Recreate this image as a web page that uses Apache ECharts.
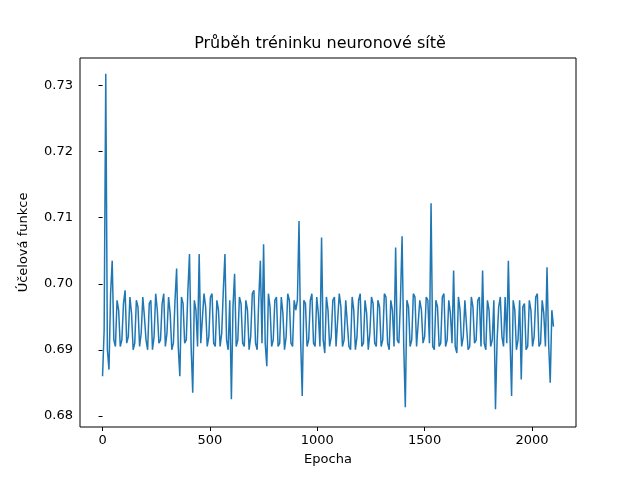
<!DOCTYPE html>
<html><head><meta charset="utf-8">
<script src="https://cdn.jsdelivr.net/npm/echarts@6/dist/echarts.min.js"></script>
<style>html,body{margin:0;padding:0;background:#fff}#c{width:640px;height:480px}</style>
</head><body><div id="c"></div>
<script>
const epochStep = 15;
const lossValues = [
0.686,0.7318,0.687,0.7035,0.6905,0.6960,0.6915,0.6990,0.6920,0.6955,
0.6910,0.6965,0.6925,0.6950,0.6900,0.6975,0.6920,0.6960,0.6915,0.6985,
0.6925,0.6955,0.6910,0.7023,0.6860,0.6970,0.6915,0.7045,0.6835,0.6960,
0.7045,0.6910,0.6965,0.6920,0.6985,0.6905,0.6960,0.6925,0.7045,0.6900,
0.6825,0.7015,0.6915,0.6970,0.6905,0.6960,0.6920,0.6990,0.6900,0.7035,
0.7060,0.6875,0.6965,0.6915,0.6980,0.6910,0.6955,0.6920,0.6975,0.6905,
0.6960,0.7095,0.6830,0.6970,0.6915,0.6985,0.6905,0.6955,0.7070,0.6895,
0.6960,0.6920,0.6980,0.6905,0.6965,0.6915,0.6975,0.6900,0.6960,0.6920,
0.6985,0.6910,0.6955,0.6925,0.6970,0.6905,0.6965,0.6915,0.6980,0.6900,
0.6960,0.7055,0.6910,0.7072,0.6813,0.6965,0.6915,0.6980,0.6905,0.6960,
0.6920,0.6975,0.7122,0.6900,0.6965,0.6910,0.6985,0.6915,0.6955,0.7020,
0.6895,0.6960,0.6920,0.6975,0.6905,0.6965,0.6915,0.6980,0.7020,0.6900,
0.6960,0.6915,0.6810,0.6965,0.6920,0.6980,0.7035,0.6830,0.6960,0.6915,
0.6855,0.6970,0.6905,0.6960,0.6920,0.6985,0.6910,0.6955,0.7025,0.6850,
0.6935
];
const midValues = [
0.6930,0.6900,0.6985,0.6915,0.6975,0.6905,0.6970,0.6910,0.6980,0.6900,
0.6975,0.6905,0.6980,0.6915,0.6970,0.6900,0.6985,0.6910,0.6970,0.6905,
0.6980,0.6900,0.6975,0.6905,0.6980,0.6910,0.6990,0.6905,0.6975,0.6905,
0.6910,0.6985,0.6905,0.6980,0.6910,0.6975,0.6905,0.6990,0.6915,0.6975,
0.6965,0.6905,0.6980,0.6910,0.6975,0.6900,0.6985,0.6910,0.6975,0.6910,
0.6910,0.6985,0.6905,0.6975,0.6905,0.6980,0.6900,0.6985,0.6910,0.6975,
0.6975,0.6915,0.6975,0.6905,0.6975,0.6910,0.6980,0.6905,0.6915,0.6980,
0.6905,0.6975,0.6905,0.6985,0.6905,0.6975,0.6905,0.6980,0.6900,0.6975,
0.6905,0.6975,0.6900,0.6980,0.6910,0.6975,0.6905,0.6985,0.6910,0.6975,
0.6905,0.6915,0.6975,0.6910,0.6975,0.6905,0.6985,0.6905,0.6975,0.6910,
0.6980,0.6910,0.6905,0.6975,0.6905,0.6980,0.6905,0.6975,0.6910,0.6905,
0.6980,0.6905,0.6975,0.6900,0.6980,0.6910,0.6975,0.6905,0.6910,0.6975,
0.6905,0.6975,0.6915,0.6980,0.6905,0.6910,0.6920,0.6975,0.6900,0.6975,
0.6965,0.6900,0.6975,0.6905,0.6980,0.6905,0.6975,0.6905,0.6910,0.6960
];
const xTicks = [0,500,1000,1500,2000];
const yTicks = [0.68,0.69,0.70,0.71,0.72,0.73];
const data = [];
lossValues.forEach((v,i)=>{
  data.push([i*epochStep, v]);
  if (i < midValues.length) data.push([i*epochStep + epochStep/2, midValues[i]]);
});
const txt = {color:'#000', fontFamily:'DejaVu Sans', fontSize:13};
echarts.init(document.getElementById('c')).setOption({
  animation:false,
  title:{text:'Průběh tréninku neuronové sítě', left:'center', top:31,
    textStyle:{color:'#000', fontFamily:'DejaVu Sans', fontSize:16, fontWeight:'normal'}},
  grid:{left:80,right:64,top:58,bottom:53,show:true,borderColor:'#000',borderWidth:1},
  xAxis:{type:'value',min:-105,max:2205,name:'Epocha',nameLocation:'middle',nameGap:26,nameTextStyle:txt,
    axisLine:{show:false},splitLine:{show:false},
    axisTick:{customValues:xTicks,inside:false,length:4,lineStyle:{color:'#000'}},
    axisLabel:{customValues:xTicks,...txt,margin:7,formatter:v=>String(v)}},
  yAxis:{type:'value',min:0.6783,max:0.7342,name:'Účelová funkce',nameLocation:'middle',nameGap:50,nameTextStyle:txt,
    axisLine:{show:false},splitLine:{show:false},
    axisTick:{customValues:yTicks,length:4,lineStyle:{color:'#000'}},
    axisLabel:{customValues:yTicks,...txt,margin:7,formatter:v=>v.toFixed(2)}},
  series:[{type:'line',data:data,showSymbol:false,lineStyle:{color:'#1f77b4',width:1.5}}]
});
</script></body></html>
